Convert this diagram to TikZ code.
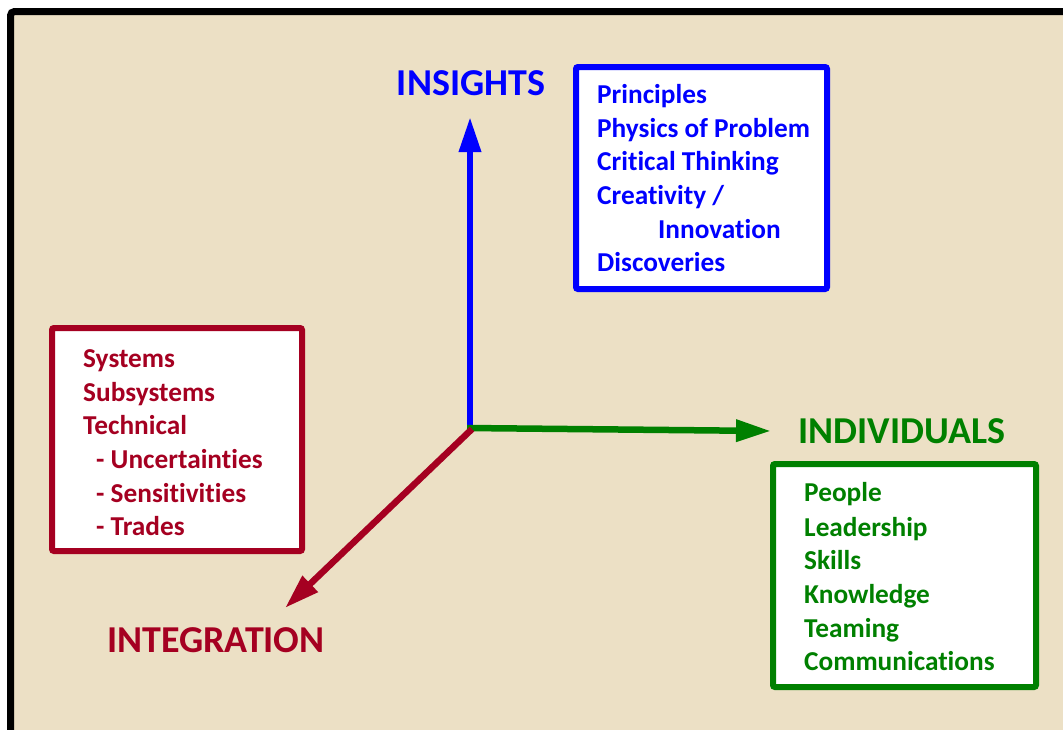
\documentclass[tikz,border=0pt]{standalone}
\usepackage{fontspec}
\setmainfont{Carlito}[Ligatures={NoCommon}]
\usetikzlibrary{arrows.meta}
\definecolor{bgbeige}{RGB}{236,224,197}
\definecolor{insblue}{RGB}{0,0,255}
\definecolor{intred}{RGB}{165,0,33}
\definecolor{indgreen}{RGB}{0,128,0}
\tikzset{
  boxframe/.style={draw=#1, line width=6pt, fill=white, rounded corners=2pt, inner sep=0pt},
  itemtext/.style={text=#1, anchor=base west, inner sep=0pt, font=\bfseries\fontsize{27.3}{30}\selectfont},
  axistitle/.style={text=#1, anchor=base, inner sep=0pt, font=\bfseries\fontsize{38}{40}\selectfont},
  axisarrow/.style={draw=#1, line width=6.5pt, -{Triangle[length=35pt,width=21pt]}},
}
\begin{document}
\begin{tikzpicture}[x=1pt,y=-1pt]
\useasboundingbox (0,0) rectangle (1063,729);
\fill[white] (0,0) rectangle (1063,729);
\begin{scope}
\clip (0,0) rectangle (1063,729);
\draw[line width=7pt, fill=bgbeige, rounded corners=4pt] (10.5,11.5) rectangle (1100,770);
\end{scope}

% boxes
\node[boxframe=insblue, minimum width=251pt, minimum height=222pt] (insbox) at (701.5,178) {};
\node[boxframe=intred, minimum width=250pt, minimum height=223pt] (intbox) at (177,439.5) {};
\node[boxframe=indgreen, minimum width=263pt, minimum height=223pt] (indbox) at (904.5,575.5) {};

% axes
\coordinate (origin) at (470,428);
\coordinate (uptip) at (470,117);
\coordinate (righttip) at (771,431);
\coordinate (downtip) at (285,608);
\draw[axisarrow=insblue] (origin) -- (uptip);
\draw[axisarrow=indgreen] ([xshift=-3pt]origin) -- (righttip);
\draw[axisarrow=intred] ([xshift=2pt,yshift=-1pt]origin) -- (downtip);

% titles
\node[axistitle=insblue] (institle) at (471,95) {INSIGHTS};
\node[axistitle=indgreen] (indtitle) at (902,443) {INDIVIDUALS};
\node[axistitle=intred] (inttitle) at (216,652) {INTEGRATION};

% insights items
\node[itemtext=insblue] (ins1) at (597,103) {Principles};
\node[itemtext=insblue] (ins2) at (597,137) {Physics of Problem};
\node[itemtext=insblue] (ins3) at (597,170) {Critical Thinking};
\node[itemtext=insblue] (ins4) at (597,204) {Creativity /};
\node[itemtext=insblue] (ins5) at (658,238) {Innovation};
\node[itemtext=insblue] (ins6) at (597,271) {Discoveries};

% integration items
\node[itemtext=intred] (int1) at (83,367) {Systems};
\node[itemtext=intred] (int2) at (83,401) {Subsystems};
\node[itemtext=intred] (int3) at (83,434) {Technical};
\node[itemtext=intred] (int4) at (96,468) {- Uncertainties};
\node[itemtext=intred] (int5) at (96,502) {- Sensitivities};
\node[itemtext=intred] (int6) at (96,535) {- Trades};

% individuals items
\node[itemtext=indgreen] (ind1) at (804,501) {People};
\node[itemtext=indgreen] (ind2) at (804,536) {Leadership};
\node[itemtext=indgreen] (ind3) at (804,569) {Skills};
\node[itemtext=indgreen] (ind4) at (804,603) {Knowledge};
\node[itemtext=indgreen] (ind5) at (804,637) {Teaming};
\node[itemtext=indgreen] (ind6) at (804,670) {Communications};
\end{tikzpicture}
\end{document}
